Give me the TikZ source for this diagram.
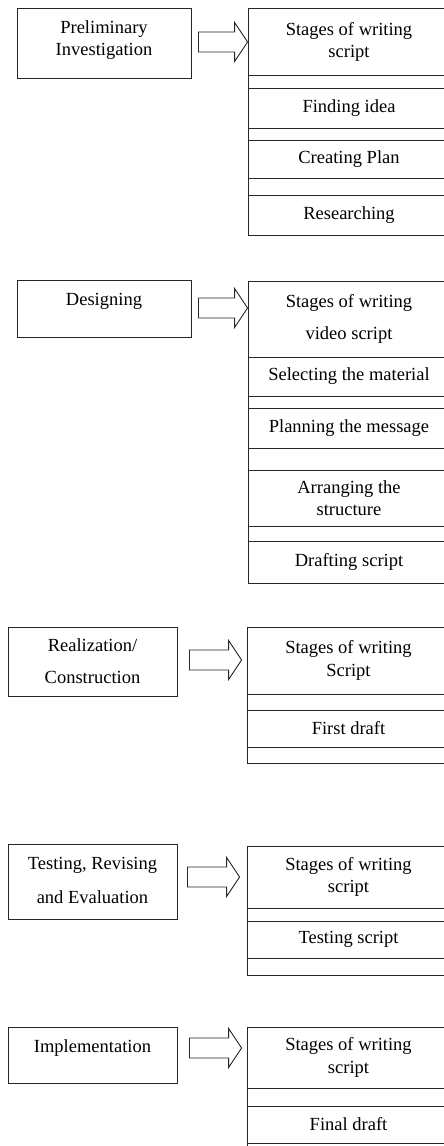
\documentclass[tikz,border=0pt]{standalone}
\usepackage{fontspec}
\setmainfont{Liberation Serif}
\usetikzlibrary{calc}

% one row of a stage table: name, left x, top y, bottom y, text
\newcommand\rowcell[5]{%
  \node[cell, minimum width={450-#2}, minimum height={#4-#3}]
    (#1) at ({(#2+450)/2},{(#3+#4)/2}) {#5};}

% hollow block arrow from a phase box to its stage table:
% source, target, gap after source, gap before target, y of the axis
\newcommand\hollowarrow[5]{%
  \draw[arr] let \p1=(#1.east), \p2=(#2.west), \p3=(0,#5) in
    (\x1+#3pt,\y3+10pt) -- (\x2-#4pt-13pt,\y3+10pt) -- (\x2-#4pt-13pt,\y3+19.5pt)
    -- (\x2-#4pt,\y3) -- (\x2-#4pt-13pt,\y3-19.5pt) -- (\x2-#4pt-13pt,\y3-10pt)
    -- (\x1+#3pt,\y3-10pt) -- cycle;}

\begin{document}
\begin{tikzpicture}[x=1pt,y=-1pt,
  line/.style={draw=black!85, line width=0.9pt},
  phasebox/.style={line, rectangle, inner sep=0pt, fill=white},
  cell/.style={line, rectangle, inner sep=0pt, align=center},
  arr/.style={line, fill=white, line join=miter},
  every label/.style={align=center},
  font=\fontsize{18.5}{22.5}\selectfont]

\clip (0,0) rectangle (444,1146);

% ---------- phase boxes ----------
\node[phasebox, minimum width=174, minimum height=70,
  label={[yshift=3pt]center:Preliminary\\Investigation}] (P1) at (104,43) {};
\node[phasebox, minimum width=174, minimum height=57,
  label={[yshift=7.5pt]center:Designing}] (P2) at (104,308.5) {};
\node[phasebox, minimum width=169, minimum height=69,
  label={[yshift=0.5pt]center:Realization/\\[9.5pt]Construction}] (P3) at (92.5,661.5) {};
\node[phasebox, minimum width=169, minimum height=75,
  label={[yshift=1.5pt]center:Testing, Revising\\[11.5pt]and Evaluation}] (P4) at (92.5,881.5) {};
\node[phasebox, minimum width=169, minimum height=56,
  label={[yshift=7pt]center:Implementation}] (P5) at (92.5,1055) {};

% ---------- stage tables ----------
\rowcell{R1a}{248}{8}{75.7}{Stages of writing\\script}
\rowcell{R1b}{248}{75.7}{88.3}{}
\rowcell{R1c}{248}{88.3}{128.3}{Finding idea}
\rowcell{R1d}{248}{128.3}{140}{}
\rowcell{R1e}{248}{140}{178.3}{Creating Plan}
\rowcell{R1f}{248}{178.3}{195}{}
\rowcell{R1g}{248}{195}{235}{Researching}

\rowcell{R2a}{248}{281}{357}{Stages of writing\\[9.5pt]video script}
\rowcell{R2b}{248}{357}{396}{Selecting the material}
\rowcell{R2c}{248}{396}{408}{}
\rowcell{R2d}{248}{408}{448}{Planning the message}
\rowcell{R2e}{248}{448}{470}{}
\rowcell{R2f}{248}{470}{526}{Arranging the\\structure}
\rowcell{R2g}{248}{526}{541}{}
\rowcell{R2h}{248}{541}{583}{Drafting script}

\rowcell{R3a}{247}{627}{694}{Stages of writing\\Script}
\rowcell{R3b}{247}{694}{710}{}
\rowcell{R3c}{247}{710}{747}{First draft}
\rowcell{R3d}{247}{747}{763}{}

\rowcell{R4a}{247}{846}{908}{Stages of writing\\script}
\rowcell{R4b}{247}{908}{921}{}
\rowcell{R4c}{247}{921}{958}{Testing script}
\rowcell{R4d}{247}{958}{975}{}

\rowcell{R5a}{247}{1027}{1088}{Stages of writing\\script}
\rowcell{R5b}{247}{1088}{1106}{}
\rowcell{R5c}{247}{1106}{1143}{Final draft}
\rowcell{R5d}{247}{1143}{1165}{}

% ---------- block arrows ----------
\hollowarrow{P1}{R1a}{7}{0}{42}
\hollowarrow{P2}{R2a}{7}{0}{308}
\hollowarrow{P3}{R3a}{12}{5}{660}
\hollowarrow{P4}{R4a}{10}{7}{877}
\hollowarrow{P5}{R5a}{12}{5}{1048}

\end{tikzpicture}
\end{document}
